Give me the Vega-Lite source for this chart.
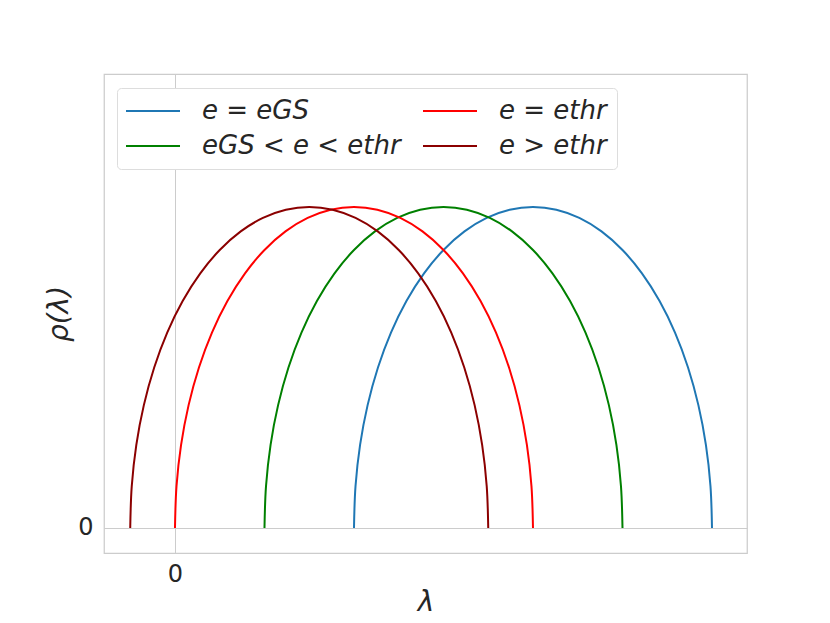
{
  "$schema": "https://vega.github.io/schema/vega-lite/v6.json",
  "width": 643,
  "height": 479,
  "autosize": "none",
  "padding": {"left": 104, "top": 74, "right": 83, "bottom": 70},
  "background": "white",
  "config": {
    "font": "DejaVu Sans",
    "view": {"stroke": "#cccccc", "strokeWidth": 1.25}
  },
  "data": {"values": [
    {"s":"e = eGS","x":2,"y":0},{"s":"e = eGS","x":2.0171,"y":0.1305},{"s":"e = eGS","x":2.0681,"y":0.2588},{"s":"e = eGS","x":2.1522,"y":0.3827},{"s":"e = eGS","x":2.2679,"y":0.5},{"s":"e = eGS","x":2.4133,"y":0.6088},{"s":"e = eGS","x":2.5858,"y":0.7071},{"s":"e = eGS","x":2.7825,"y":0.7934},{"s":"e = eGS","x":3,"y":0.866},{"s":"e = eGS","x":3.2346,"y":0.9239},{"s":"e = eGS","x":3.4824,"y":0.9659},{"s":"e = eGS","x":3.7389,"y":0.9914},{"s":"e = eGS","x":4,"y":1},{"s":"e = eGS","x":4.2611,"y":0.9914},{"s":"e = eGS","x":4.5176,"y":0.9659},{"s":"e = eGS","x":4.7654,"y":0.9239},{"s":"e = eGS","x":5,"y":0.866},{"s":"e = eGS","x":5.2175,"y":0.7934},{"s":"e = eGS","x":5.4142,"y":0.7071},{"s":"e = eGS","x":5.5867,"y":0.6088},{"s":"e = eGS","x":5.7321,"y":0.5},{"s":"e = eGS","x":5.8478,"y":0.3827},{"s":"e = eGS","x":5.9319,"y":0.2588},{"s":"e = eGS","x":5.9829,"y":0.1305},{"s":"e = eGS","x":6,"y":0},
    {"s":"eGS < e < ethr","x":1,"y":0},{"s":"eGS < e < ethr","x":1.0171,"y":0.1305},{"s":"eGS < e < ethr","x":1.0681,"y":0.2588},{"s":"eGS < e < ethr","x":1.1522,"y":0.3827},{"s":"eGS < e < ethr","x":1.2679,"y":0.5},{"s":"eGS < e < ethr","x":1.4133,"y":0.6088},{"s":"eGS < e < ethr","x":1.5858,"y":0.7071},{"s":"eGS < e < ethr","x":1.7825,"y":0.7934},{"s":"eGS < e < ethr","x":2,"y":0.866},{"s":"eGS < e < ethr","x":2.2346,"y":0.9239},{"s":"eGS < e < ethr","x":2.4824,"y":0.9659},{"s":"eGS < e < ethr","x":2.7389,"y":0.9914},{"s":"eGS < e < ethr","x":3,"y":1},{"s":"eGS < e < ethr","x":3.2611,"y":0.9914},{"s":"eGS < e < ethr","x":3.5176,"y":0.9659},{"s":"eGS < e < ethr","x":3.7654,"y":0.9239},{"s":"eGS < e < ethr","x":4,"y":0.866},{"s":"eGS < e < ethr","x":4.2175,"y":0.7934},{"s":"eGS < e < ethr","x":4.4142,"y":0.7071},{"s":"eGS < e < ethr","x":4.5867,"y":0.6088},{"s":"eGS < e < ethr","x":4.7321,"y":0.5},{"s":"eGS < e < ethr","x":4.8478,"y":0.3827},{"s":"eGS < e < ethr","x":4.9319,"y":0.2588},{"s":"eGS < e < ethr","x":4.9829,"y":0.1305},{"s":"eGS < e < ethr","x":5,"y":0},
    {"s":"e = ethr","x":0,"y":0},{"s":"e = ethr","x":0.0171,"y":0.1305},{"s":"e = ethr","x":0.0681,"y":0.2588},{"s":"e = ethr","x":0.1522,"y":0.3827},{"s":"e = ethr","x":0.2679,"y":0.5},{"s":"e = ethr","x":0.4133,"y":0.6088},{"s":"e = ethr","x":0.5858,"y":0.7071},{"s":"e = ethr","x":0.7825,"y":0.7934},{"s":"e = ethr","x":1,"y":0.866},{"s":"e = ethr","x":1.2346,"y":0.9239},{"s":"e = ethr","x":1.4824,"y":0.9659},{"s":"e = ethr","x":1.7389,"y":0.9914},{"s":"e = ethr","x":2,"y":1},{"s":"e = ethr","x":2.2611,"y":0.9914},{"s":"e = ethr","x":2.5176,"y":0.9659},{"s":"e = ethr","x":2.7654,"y":0.9239},{"s":"e = ethr","x":3,"y":0.866},{"s":"e = ethr","x":3.2175,"y":0.7934},{"s":"e = ethr","x":3.4142,"y":0.7071},{"s":"e = ethr","x":3.5867,"y":0.6088},{"s":"e = ethr","x":3.7321,"y":0.5},{"s":"e = ethr","x":3.8478,"y":0.3827},{"s":"e = ethr","x":3.9319,"y":0.2588},{"s":"e = ethr","x":3.9829,"y":0.1305},{"s":"e = ethr","x":4,"y":0},
    {"s":"e > ethr","x":-0.5,"y":0},{"s":"e > ethr","x":-0.4829,"y":0.1305},{"s":"e > ethr","x":-0.4319,"y":0.2588},{"s":"e > ethr","x":-0.3478,"y":0.3827},{"s":"e > ethr","x":-0.2321,"y":0.5},{"s":"e > ethr","x":-0.0867,"y":0.6088},{"s":"e > ethr","x":0.0858,"y":0.7071},{"s":"e > ethr","x":0.2825,"y":0.7934},{"s":"e > ethr","x":0.5,"y":0.866},{"s":"e > ethr","x":0.7346,"y":0.9239},{"s":"e > ethr","x":0.9824,"y":0.9659},{"s":"e > ethr","x":1.2389,"y":0.9914},{"s":"e > ethr","x":1.5,"y":1},{"s":"e > ethr","x":1.7611,"y":0.9914},{"s":"e > ethr","x":2.0176,"y":0.9659},{"s":"e > ethr","x":2.2654,"y":0.9239},{"s":"e > ethr","x":2.5,"y":0.866},{"s":"e > ethr","x":2.7175,"y":0.7934},{"s":"e > ethr","x":2.9142,"y":0.7071},{"s":"e > ethr","x":3.0867,"y":0.6088},{"s":"e > ethr","x":3.2321,"y":0.5},{"s":"e > ethr","x":3.3478,"y":0.3827},{"s":"e > ethr","x":3.4319,"y":0.2588},{"s":"e > ethr","x":3.4829,"y":0.1305},{"s":"e > ethr","x":3.5,"y":0}
  ]},
  "mark": {"type": "line", "strokeWidth": 2, "clip": true, "interpolate": "catmull-rom"},
  "encoding": {
    "x": {
      "field": "x", "type": "quantitative",
      "scale": {"domain": [-0.793, 6.391], "nice": false, "zero": false},
      "axis": {
        "values": [0], "title": "λ", "grid": true, "gridColor": "#cccccc", "gridWidth": 1,
        "domain": false, "ticks": false, "labelFontSize": 24, "labelColor": "#262626",
        "labelPadding": 9, "titleFontSize": 28, "titleFontWeight": "normal", "titleFontStyle": "italic",
        "titleColor": "#262626", "titlePadding": 2
      }
    },
    "y": {
      "field": "y", "type": "quantitative",
      "scale": {"domain": [-0.0779, 1.4143], "nice": false, "zero": false},
      "axis": {
        "values": [0], "title": "ρ(λ)", "grid": true, "gridColor": "#cccccc", "gridWidth": 1,
        "domain": false, "ticks": false, "labelFontSize": 24, "labelColor": "#262626",
        "labelPadding": 11, "titleFontSize": 28, "titleFontWeight": "normal", "titleFontStyle": "italic",
        "titleColor": "#262626", "titlePadding": 4
      }
    },
    "color": {
      "field": "s", "type": "nominal",
      "scale": {
        "domain": ["e = eGS", "eGS < e < ethr", "e = ethr", "e > ethr"],
        "range": ["#1f77b4", "#008000", "#ff0000", "#8b0000"]
      },
      "legend": {
        "title": null, "orient": "none", "legendX": 13, "legendY": 14, "columns": 2,
        "direction": "vertical",
        "symbolType": "M-1.4,0H4", "symbolSize": 400, "symbolStrokeWidth": 2,
        "labelFontSize": 26, "labelFontStyle": "italic", "labelColor": "#262626", "labelOffset": 49,
        "labelLimit": 400,
        "padding": 10, "rowPadding": 9, "columnPadding": 18,
        "fillColor": "white", "strokeColor": "#dddddd", "cornerRadius": 4
      }
    }
  }
}
